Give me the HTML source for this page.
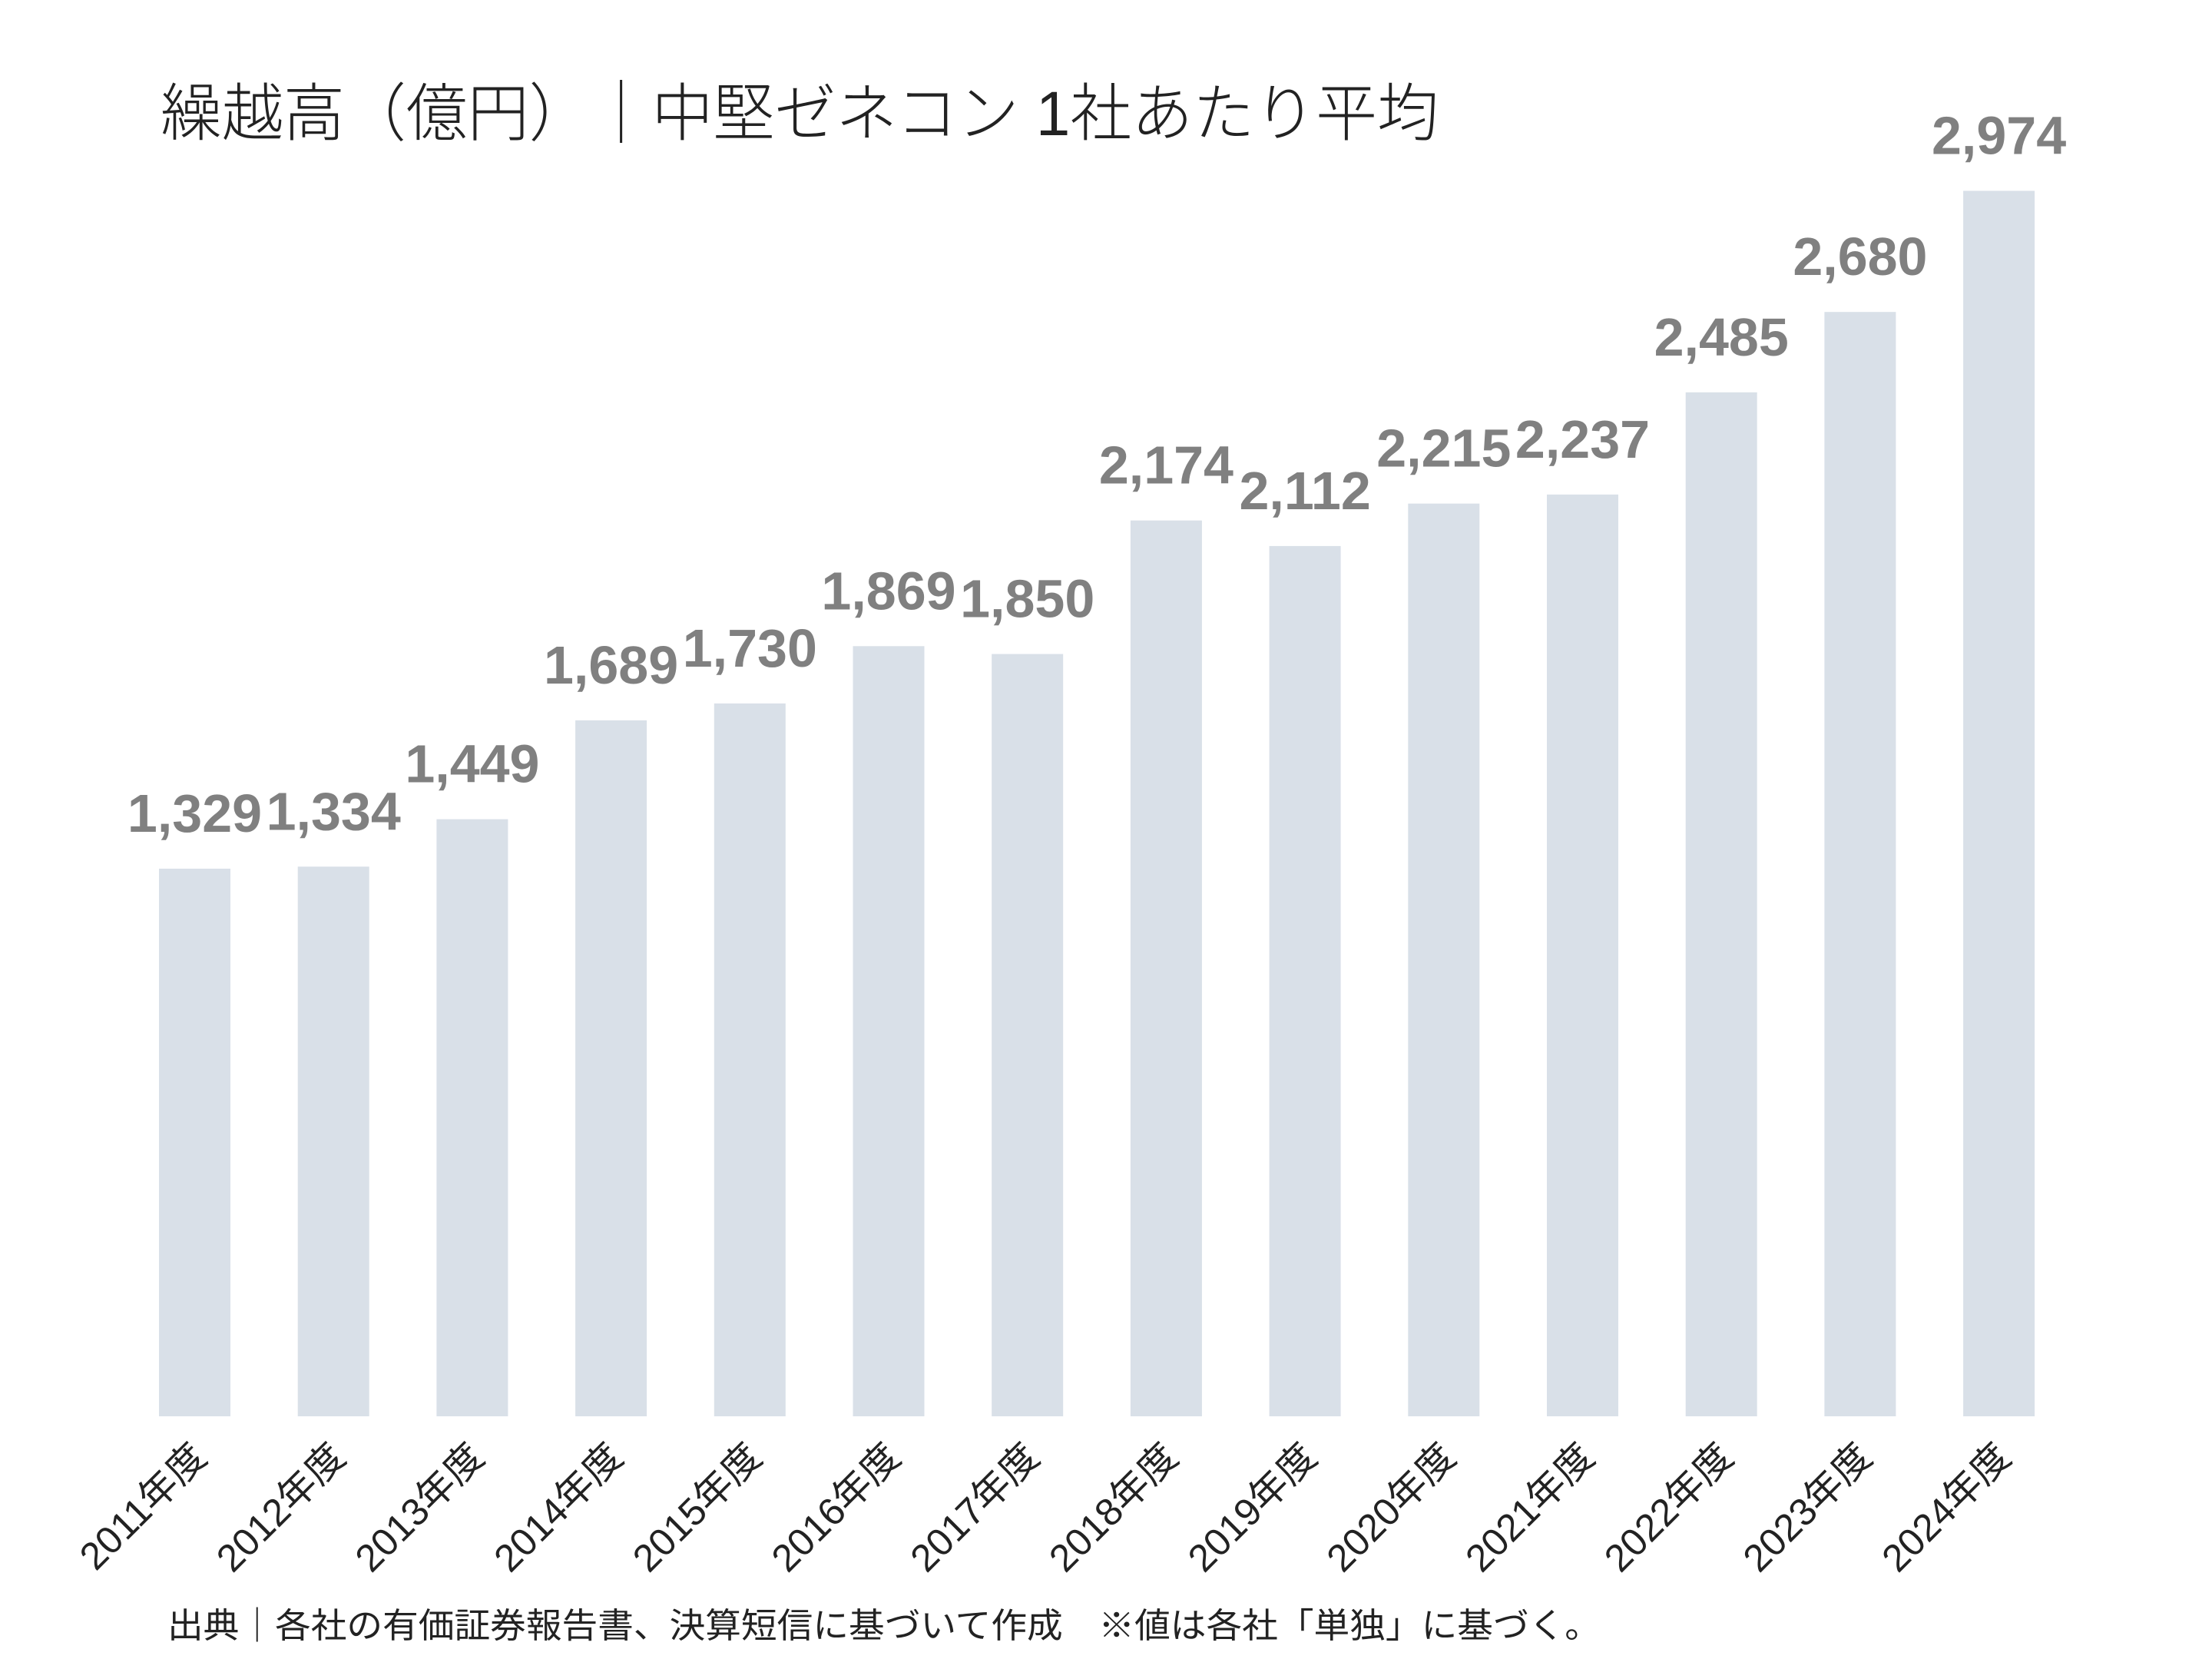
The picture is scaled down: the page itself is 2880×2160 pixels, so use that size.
<!DOCTYPE html>
<html><head><meta charset="utf-8"><style>
html,body{margin:0;padding:0;background:#fff;}
svg{display:block;}
</style></head><body>
<svg id="chart" width="2880" height="2160" viewBox="0 0 2880 2160" xmlns="http://www.w3.org/2000/svg">
<rect width="2880" height="2160" fill="#fff"/>
<text x="209" y="176" font-family="'Liberation Sans','Noto Sans CJK JP',sans-serif" font-size="82" font-weight="300" fill="#222" textLength="1664" lengthAdjust="spacingAndGlyphs">繰越高（億円）｜中堅ゼネコン 1社あたり平均</text>
<g id="bars"></g>
<g id="labels"></g>
<g id="xticks"></g>
<text x="218" y="2132" font-family="'Liberation Sans','Noto Sans CJK JP',sans-serif" font-size="45" fill="#222" textLength="1866" lengthAdjust="spacingAndGlyphs">出典｜各社の有価証券報告書、決算短信に基づいて作成　※値は各社「単独」に基づく。</text>
</svg>
<script>
const categories = ["2011年度","2012年度","2013年度","2014年度","2015年度","2016年度","2017年度","2018年度","2019年度","2020年度","2021年度","2022年度","2023年度","2024年度"];
const values = [1329,1334,1449,1689,1730,1869,1850,2174,2112,2215,2237,2485,2680,2974];

const NS = "http://www.w3.org/2000/svg";
const baseY = 1844, pxPerUnit = 713/1329;
const x0 = 207, pitch = 180.7, barW = 93;
function xScale(i){ return x0 + i*pitch; }
function yScale(v){ return baseY - v*pxPerUnit; }
function fmt(v){ return v.toLocaleString("en-US"); }

const gb = document.getElementById("bars");
const gl = document.getElementById("labels");
const gx = document.getElementById("xticks");
values.forEach((v,i)=>{
  const x = xScale(i), y = yScale(v);
  const r = document.createElementNS(NS,"rect");
  
  
  r.setAttribute("x", x); r.setAttribute("y", y);
  r.setAttribute("width", barW); r.setAttribute("height", baseY - y);
  r.setAttribute("fill", "#d9e0e8");
  gb.appendChild(r);

  const t = document.createElementNS(NS,"text");
  
  
  t.setAttribute("x", x + barW/2); t.setAttribute("y", y - 48);
  t.setAttribute("text-anchor", "middle");
  t.setAttribute("font-family", "'Liberation Sans',sans-serif");
  t.setAttribute("font-weight", "bold");
  t.setAttribute("font-size", "70");
  t.setAttribute("fill", "#808080");
  t.textContent = fmt(v);
  gl.appendChild(t);

  const c = document.createElementNS(NS,"text");
  
  
  const ax = x + barW/2 + 18, ay = 1900;
  c.setAttribute("x", ax); c.setAttribute("y", ay);
  c.setAttribute("text-anchor", "end");
  c.setAttribute("transform", "rotate(-45 " + ax + " " + ay + ")");
  c.setAttribute("font-family", "'Liberation Sans','Noto Sans CJK JP',sans-serif");
  c.setAttribute("font-size", "50");
  c.setAttribute("fill", "#222");
  c.textContent = categories[i];
  gx.appendChild(c);
});
</script>
</body></html>
